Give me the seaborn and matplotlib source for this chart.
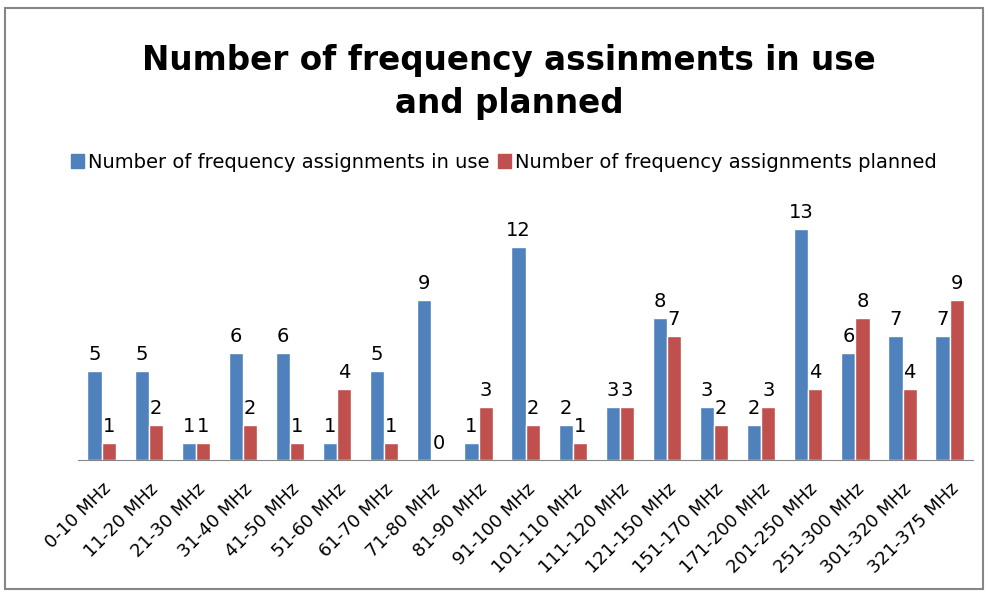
import matplotlib
matplotlib.use("Agg")
import matplotlib.pyplot as plt
import seaborn as sns
import pandas as pd
from matplotlib.patches import Rectangle

# data
bands = ["0-10 MHz", "11-20 MHz", "21-30 MHz", "31-40 MHz", "41-50 MHz",
         "51-60 MHz", "61-70 MHz", "71-80 MHz", "81-90 MHz", "91-100 MHz",
         "101-110 MHz", "111-120 MHz", "121-150 MHz", "151-170 MHz",
         "171-200 MHz", "201-250 MHz", "251-300 MHz", "301-320 MHz",
         "321-375 MHz"]
in_use = [5, 5, 1, 6, 6, 1, 5, 9, 1, 12, 2, 3, 8, 3, 2, 13, 6, 7, 7]
planned = [1, 2, 1, 2, 1, 4, 1, 0, 3, 2, 1, 3, 7, 2, 3, 4, 8, 4, 9]
series = ["Number of frequency assignments in use",
          "Number of frequency assignments planned"]

df = pd.DataFrame({"band": bands * 2,
                   "count": in_use + planned,
                   "series": [series[0]] * len(bands) + [series[1]] * len(bands)})

sns.set_style("white")
plt.rcParams['font.family'] = ['DejaVu Sans']
plt.rcParams['text.color'] = 'black'
plt.rcParams['xtick.color'] = 'black'

fig = plt.figure(figsize=(9.88, 5.94), dpi=100)
ax = fig.add_axes([0.079, 0.225, 0.906, 0.42])

sns.barplot(data=df, x="band", y="count", hue="series",
            palette=["#4F81BD", "#C0504D"], width=0.6, gap=0,
            saturation=1, ax=ax, legend=False)

for cont in ax.containers:
    ax.bar_label(cont, fontsize=14, padding=5, color="black")

ax.set_ylim(0, 14)
ax.set_xlim(-0.5, len(bands) - 0.5)
ax.set_xlabel("")
ax.set_ylabel("")
ax.set_yticks([])
for s in ["top", "right", "left"]:
    ax.spines[s].set_visible(False)
ax.spines["bottom"].set_color("#868686")
ax.tick_params(axis="x", length=0, pad=14)
plt.setp(ax.get_xticklabels(), rotation=45, ha="right",
         rotation_mode="anchor", fontsize=13, color="black")

fig.text(0.515, 0.862, "Number of frequency assinments in use\nand planned",
         ha="center", va="center", fontsize=23.5, fontweight="bold",
         linespacing=1.35)

handles = [Rectangle((0, 0), 1, 1, color="#4F81BD"),
           Rectangle((0, 0), 1, 1, color="#C0504D")]
fig.legend(handles, series, loc="center", bbox_to_anchor=(0.51, 0.727),
           ncol=2, frameon=False, fontsize=14, handlelength=0.7,
           handleheight=0.7, handletextpad=0.2, columnspacing=0.4)

fig.patches.append(Rectangle((0.005, 0.008), 0.99, 0.978, fill=False,
                             edgecolor="#868686", linewidth=1.5,
                             transform=fig.transFigure))

fig.savefig("out.png", dpi=100)
